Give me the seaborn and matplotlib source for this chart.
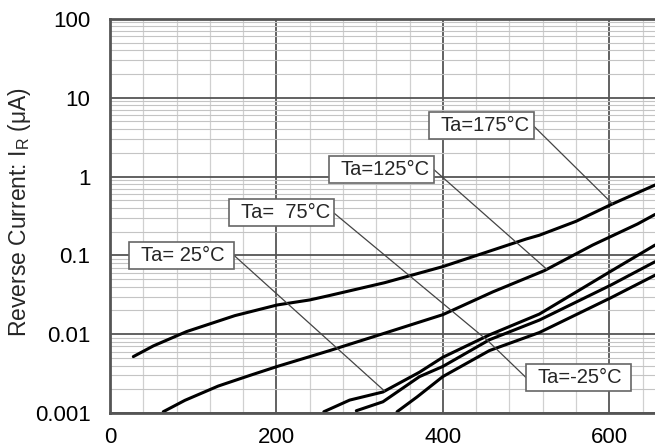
import numpy as np
import pandas as pd
import matplotlib
matplotlib.use('Agg')
import matplotlib.pyplot as plt
import seaborn as sns
from matplotlib.patches import Rectangle
from matplotlib.ticker import FixedLocator, FixedFormatter, LogLocator, NullFormatter

# Reverse voltage (V) vs reverse current (uA)
x_175 = [28, 52, 92, 150, 201, 240, 264, 330, 400, 500, 516, 560, 602, 655]
y_175 = [0.0052, 0.0071, 0.0108, 0.0172, 0.0235, 0.0272, 0.031, 0.045, 0.072, 0.161, 0.18, 0.27, 0.44, 0.78]

x_125 = [64, 90, 130, 168, 201, 264, 330, 400, 460, 522, 580, 634, 655]
y_125 = [0.00104, 0.00145, 0.0022, 0.0030, 0.0039, 0.0062, 0.0103, 0.0177, 0.0344, 0.064, 0.135, 0.25, 0.33]

x_25 = [257, 288, 328, 372, 400, 456, 516, 602, 655]
y_25 = [0.00104, 0.00146, 0.00185, 0.0033, 0.0051, 0.0098, 0.018, 0.063, 0.135]

x_75 = [296, 328, 372, 400, 456, 516, 602, 655]
y_75 = [0.00107, 0.00139, 0.0029, 0.0039, 0.0085, 0.0151, 0.042, 0.083]

x_m25 = [345, 369, 400, 456, 516, 602, 655]
y_m25 = [0.00104, 0.0016, 0.0029, 0.0062, 0.0105, 0.029, 0.056]

series = {'175': (x_175, y_175), '125': (x_125, y_125), '75': (x_75, y_75),
          '25': (x_25, y_25), '-25': (x_m25, y_m25)}

# label boxes: text, left edge (V), centre (log10 uA), leader target (series, V)
label_text = ['Ta=175°C', 'Ta=125°C', 'Ta=  75°C', 'Ta= 25°C', 'Ta=-25°C']
label_left = [383, 263, 143, 23, 500]
label_logy = [0.642, 0.09, -0.462, -1.0, -2.55]
leader_series = ['175', '125', '75', '25', '75']
leader_x = [604, 525, 454, 330, 454]

rows = []
for name, (xs, ys) in series.items():
    for xv, yv in zip(xs, ys):
        rows.append({'V': xv, 'IR': yv, 'Ta': name})
df = pd.DataFrame(rows)

sns.set_style('white')
plt.rcParams['font.family'] = ['Liberation Sans', 'DejaVu Sans']

fig = plt.figure(figsize=(6.55, 4.48), dpi=100)
ax = fig.add_axes([0.168, 0.078, 0.832, 0.88])

sns.lineplot(data=df, x='V', y='IR', units='Ta', estimator=None, color='black',
             linewidth=2.2, ax=ax, legend=False)

ax.set_yscale('log')
ax.set_xlim(0, 655)
ax.set_ylim(0.001, 100)

# grid
ax.xaxis.set_major_locator(FixedLocator([0, 200, 400, 600]))
ax.xaxis.set_minor_locator(FixedLocator(np.arange(40, 680, 40)))
ax.yaxis.set_major_locator(FixedLocator([0.001, 0.01, 0.1, 1, 10, 100]))
ax.yaxis.set_major_formatter(FixedFormatter(['0.001', '0.01', '0.1', '1', '10', '100']))
ax.yaxis.set_minor_locator(LogLocator(base=10, subs=np.arange(2, 10), numticks=20))
ax.yaxis.set_minor_formatter(NullFormatter())
ax.grid(which='minor', axis='x', color='#d0d0d0', linewidth=0.9)
ax.grid(which='minor', axis='y', color='#c4c4c4', linewidth=0.8)
ax.grid(which='major', color='#555555', linewidth=1.3)
ax.set_axisbelow(True)

ax.tick_params(which='both', length=0, labelsize=16, colors='black')
ax.tick_params(axis='y', pad=14)
ax.tick_params(axis='x', pad=10)
for side in ['left', 'bottom', 'top']:
    ax.spines[side].set_color('#555555')
    ax.spines[side].set_linewidth(2)
ax.spines['right'].set_visible(False)

ax.set_xlabel('')
ax.set_ylabel(r'Reverse Current: I$_{\mathregular{R}}$ (μA)', fontsize=16.5)
ax.yaxis.set_label_coords(-0.141, 0.51)

# labels with leader lines
box_w = 126
box_h = 0.343
for txt, left, ly, sname, lx in zip(label_text, label_left, label_logy, leader_series, leader_x):
    xs, ys = series[sname]
    ty = 10 ** np.interp(lx, xs, np.log10(ys))
    sx = left if txt == 'Ta=-25°C' else left + box_w
    ax.plot([sx, lx], [10 ** ly, ty], color='#444444', linewidth=0.9, zorder=3)
    ax.add_patch(Rectangle((left, 10 ** (ly - box_h / 2)), box_w,
                           10 ** (ly + box_h / 2) - 10 ** (ly - box_h / 2),
                           facecolor='white', edgecolor='#666666', linewidth=1.2, zorder=4))
    ax.text(left + 14, 10 ** ly, txt, fontsize=14.5, va='center', ha='left', zorder=5)

fig.savefig('out.png', dpi=100)
